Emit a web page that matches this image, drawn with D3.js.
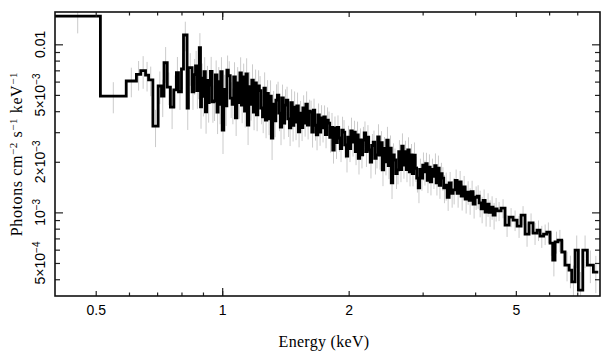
<!DOCTYPE html>
<html><head><meta charset="utf-8">
<script src="https://cdn.jsdelivr.net/npm/d3@7"></script>
<style>body{margin:0;background:#fff} svg{display:block}</style>
</head><body>
<svg id="c" width="609" height="357"></svg>
<script>
// Lower bin edges (keV); last value is the upper edge of the final bin
const binEdges = [0.40,0.513,0.591,0.625,0.640,0.657,0.668,0.684,
0.704,0.717,0.727,0.740,0.753,0.767,0.778,0.787,0.800,0.809,0.825,0.831,
0.848,0.856,0.864,0.870,0.876,0.882,0.888,0.893,0.899,0.905,0.912,0.919,0.926,0.931,0.937,0.946,0.955,0.963,0.972,0.978,0.985,0.992,1.000,1.009,1.018,1.026,1.034,1.045,1.056,1.065,
1.075,1.084,1.093,1.102,1.111,1.120,1.130,1.139,1.148,1.157,1.167,1.176,1.186,1.196,1.206,1.216,1.226,1.236,1.247,1.257,1.267,1.277,1.288,1.298,1.309,1.320,1.331,1.342,1.353,1.364,1.375,1.386,1.398,1.409,1.421,1.433,1.445,1.457,1.469,1.481,1.493,1.505,
1.518,1.530,1.543,1.556,1.569,1.582,1.595,1.608,1.621,1.634,1.648,1.661,1.675,1.689,1.703,1.717,1.731,1.745,1.760,1.774,1.789,1.803,1.818,1.833,1.848,1.863,1.879,1.894,1.910,1.926,1.942,1.958,1.974,1.990,2.007,2.023,2.040,2.057,2.074,2.091,2.108,2.125,2.143,2.160,2.178,2.196,2.214,2.232,2.251,2.269,2.288,2.307,2.326,2.345,2.365,2.384,2.404,2.424,2.444,2.464,
2.484,2.505,2.526,2.547,2.568,2.589,2.610,2.631,2.653,2.675,2.697,2.719,2.742,2.765,2.788,2.811,2.834,2.857,2.881,2.904,2.928,2.952,2.976,3.001,3.026,3.051,3.076,3.101,3.127,3.153,3.179,3.205,3.231,3.258,3.285,3.312,3.339,3.367,
3.395,3.432,3.469,3.507,3.546,3.585,3.624,3.664,3.705,3.746,3.787,3.829,3.871,3.913,3.956,4.000,4.044,4.089,4.134,4.179,4.225,4.271,4.318,4.366,4.414,4.463,
4.512,4.611,4.713,4.818,4.925,5.034,5.145,5.259,5.375,5.495,5.616,5.709,5.820,5.923,6.030,6.120,6.198,6.300,6.430,6.547,6.693,6.793,6.917,7.044,7.216,7.400,7.647,7.856];

// Flux per bin, in units of 1e-3 photons cm^-2 s^-1 keV^-1
const fluxE3 = [14.7,4.92,6.05,6.63,6.97,6.55,6.14,3.26,
5.65,4.92,7.77,5.57,4.23,5.35,6.78,5.22,7.13,11.36,4.18,7.26,
5.22,6.6,7.43,5.3,6.2,9.55,4.25,6.3,4.9,6.87,3.97,6.1,4.5,5.72,6.9,4.55,4.6,6.57,3.95,6.0,4.4,6.87,3.09,5.4,4.3,7.03,6.5,4.79,4.4,6.41,
3.65,5.9,4.5,6.75,4.35,6.4,4.0,6.66,3.31,5.6,4.4,6.13,3.95,5.9,3.8,5.65,5.3,4.18,3.7,5.49,3.54,5.1,3.6,4.92,2.77,4.4,3.5,4.66,4.99,3.9,3.22,4.8,3.4,4.35,4.66,3.6,3.18,4.5,3.3,4.23,3.45,4.3,
3.01,3.9,3.2,4.18,3.4,4.41,3.31,4.0,3.95,3.0,4.06,3.3,2.89,3.8,3.0,3.65,3.18,3.7,2.9,3.54,3.40,2.8,3.2,2.35,3.18,2.6,3.2,2.77,2.4,3.09,3.0,2.52,2.16,2.8,2.4,3.05,2.62,3.0,2.3,2.89,2.10,2.7,2.2,2.69,2.97,2.3,2.8,2.35,1.99,2.5,2.62,2.1,2.2,2.81,2.19,2.6,1.79,2.4,2.0,2.69,
1.9,2.41,1.50,2.2,2.05,1.7,1.79,2.3,1.8,2.48,1.91,2.3,1.8,2.35,1.74,2.2,1.7,2.19,1.83,1.6,1.40,1.8,1.6,1.91,1.74,1.95,1.55,1.86,1.52,1.8,1.64,1.9,1.5,1.83,1.45,1.7,1.60,1.4,
1.45,1.23,1.50,1.3,1.36,1.55,1.3,1.52,1.25,1.42,1.2,1.32,1.18,1.33,1.12,1.23,1.25,1.14,1.05,1.18,1.004,1.12,1.0,1.075,0.964,1.05,
1.02,1.06,0.84,0.938,0.90,0.829,0.964,0.743,0.865,0.753,0.785,0.723,0.743,0.764,0.656,0.52,0.668,0.684,0.581,0.486,0.453,0.386,0.597,0.345,0.597,0.486,0.441];

// Relative 1-sigma errors per bin
const relErr = [0.21,0.21,0.2,0.2,0.22,0.2,0.2,0.25,
0.22,0.25,0.24,0.22,0.26,0.22,0.24,0.22,0.24,0.2,0.26,0.22,
0.22,0.24,0.23,0.22,0.24,0.22,0.26,0.22,0.24,0.22,0.26,0.22,0.24,0.22,0.22,0.25,0.24,0.22,0.26,0.22,0.24,0.22,0.28,0.22,0.24,0.22,0.22,0.24,0.24,0.22,
0.22,0.24,0.2,0.24,0.22,0.2,0.2,0.24,0.24,0.22,0.2,0.24,0.22,0.2,0.2,0.24,0.22,0.2,0.2,0.24,0.22,0.2,0.2,0.24,0.26,0.2,0.2,0.24,0.2,0.22,0.22,0.2,0.2,0.24,0.2,0.22,0.22,0.2,0.2,0.24,0.22,0.2,
0.19,0.18,0.17,0.19,0.17,0.19,0.18,0.17,0.17,0.19,0.17,0.19,0.19,0.17,0.17,0.19,0.18,0.17,0.17,0.19,0.17,0.19,0.22,0.17,0.17,0.2,0.18,0.17,0.17,0.2,0.18,0.17,0.2,0.17,0.17,0.2,0.18,0.17,0.17,0.2,0.2,0.17,0.17,0.2,0.17,0.19,0.18,0.17,0.2,0.17,0.17,0.2,0.17,0.19,0.18,0.17,0.2,0.17,0.17,0.2,
0.17,0.19,0.2,0.17,0.17,0.19,0.18,0.17,0.16,0.19,0.17,0.16,0.16,0.19,0.18,0.16,0.16,0.19,0.17,0.18,0.19,0.16,0.16,0.19,0.17,0.16,0.16,0.19,0.17,0.16,0.16,0.18,0.16,0.19,0.17,0.16,0.16,0.19,
0.19,0.17,0.16,0.18,0.18,0.16,0.18,0.16,0.18,0.16,0.18,0.16,0.18,0.16,0.18,0.16,0.16,0.18,0.18,0.16,0.18,0.16,0.18,0.16,0.18,0.16,
0.13,0.13,0.15,0.13,0.14,0.15,0.13,0.16,0.14,0.15,0.14,0.15,0.14,0.14,0.16,0.2,0.15,0.15,0.18,0.2,0.22,0.25,0.22,0.28,0.22,0.22,0.25];

const xLabeledTicks = [0.5, 1, 2, 5];
const xMinorTicks = [0.6, 0.7, 0.8, 0.9, 3, 4, 6, 7];
const yTickValues = [5e-4, 1e-3, 2e-3, 5e-3, 0.01];
const yTickMantissa = ["5×10", "10", "2×10", "5×10", "0.01"];
const yTickExponent = ["−4", "−3", "−3", "−3", ""];
const yMinorTicks = [4e-4, 6e-4, 7e-4, 8e-4, 9e-4, 3e-3, 4e-3, 6e-3, 7e-3, 8e-3, 9e-3];
const yMajorTicks = [1e-3, 1e-2];
const xTitle = "Energy (keV)";

const L = 55, R = 600, T = 12, B = 296;
const svg = d3.select("#c");
const x = d3.scaleLog().domain([0.4, 7.93]).range([L, R]);
const y = d3.scaleLog().domain([3.18e-4, 0.01557]).range([B, T]);

const bins = fluxE3.map((f, i) => ({lo: binEdges[i], hi: binEdges[i+1], f: f*1e-3, e: (relErr[i] ?? 0.15)*f*1e-3}));

svg.append("clipPath").attr("id","clip").append("rect")
  .attr("x", L).attr("y", T).attr("width", R-L).attr("height", B-T);

const plot = svg.append("g").attr("clip-path","url(#clip)");

// error bars
plot.append("g").selectAll("line").data(bins).join("line")
  .attr("x1", d => x(Math.sqrt(d.lo*d.hi))).attr("x2", d => x(Math.sqrt(d.lo*d.hi)))
  .attr("y1", d => y(d.f + d.e)).attr("y2", d => y(Math.max(d.f - d.e, 1e-5)))
  .attr("stroke", "#cbcbcb").attr("stroke-width", 1);

// step histogram
const pts = bins.map(b => [b.lo, b.f]);
pts.push([bins[bins.length-1].hi, bins[bins.length-1].f]);
plot.append("path").datum(pts)
  .attr("d", d3.line().x(d => x(d[0])).y(d => y(d[1])).curve(d3.curveStepAfter))
  .attr("fill","none").attr("stroke","#000").attr("stroke-width",2.8).attr("stroke-linejoin","miter");

// axes
function styleAxis(g){
  g.select(".domain").remove();
  g.selectAll(".tick line").attr("stroke","#222").attr("stroke-width",1.2);
  g.attr("font-family","'Liberation Sans', Arial, sans-serif").attr("font-size",14);
  g.selectAll("text").attr("fill","#000");
}
const ax = svg.append("g");
ax.append("g").attr("transform",`translate(0,${B})`)
  .call(d3.axisBottom(x).tickValues(xLabeledTicks).tickSize(-5).tickPadding(9).tickFormat(d => d)).call(styleAxis);
ax.append("g").attr("transform",`translate(0,${B})`)
  .call(d3.axisBottom(x).tickValues([1]).tickSize(-8).tickFormat("")).call(styleAxis);
ax.append("g").attr("transform",`translate(0,${B})`)
  .call(d3.axisBottom(x).tickValues(xMinorTicks).tickSize(-3.5).tickFormat("")).call(styleAxis);
ax.append("g").attr("transform",`translate(0,${T})`)
  .call(d3.axisTop(x).tickValues(xLabeledTicks).tickSize(-5).tickFormat("")).call(styleAxis);
ax.append("g").attr("transform",`translate(0,${T})`)
  .call(d3.axisTop(x).tickValues([1]).tickSize(-8).tickFormat("")).call(styleAxis);
ax.append("g").attr("transform",`translate(0,${T})`)
  .call(d3.axisTop(x).tickValues(xMinorTicks).tickSize(-3.5).tickFormat("")).call(styleAxis);

ax.append("g").attr("transform",`translate(${L},0)`)
  .call(d3.axisLeft(y).tickValues(yMajorTicks).tickSize(-8).tickFormat("")).call(styleAxis);
ax.append("g").attr("transform",`translate(${L},0)`)
  .call(d3.axisLeft(y).tickValues(yMinorTicks.concat([2e-3,5e-3,5e-4])).tickSize(-5).tickFormat("")).call(styleAxis);
ax.append("g").attr("transform",`translate(${R},0)`)
  .call(d3.axisRight(y).tickValues(yMajorTicks).tickSize(-8).tickFormat("")).call(styleAxis);
ax.append("g").attr("transform",`translate(${R},0)`)
  .call(d3.axisRight(y).tickValues(yMinorTicks.concat([2e-3,5e-3,5e-4])).tickSize(-5).tickFormat("")).call(styleAxis);

// frame
svg.append("rect").attr("x",L).attr("y",T).attr("width",R-L).attr("height",B-T)
  .attr("fill","none").attr("stroke","#111").attr("stroke-width",1.6);

// y tick labels
const yl = svg.append("g").attr("font-family","'Liberation Sans', Arial, sans-serif").attr("font-size",14).attr("fill","#000");
yTickValues.forEach((v,i) => {
  const t = yl.append("text").attr("transform",`translate(45,${y(v)}) rotate(-90)`).attr("text-anchor","middle");
  t.append("tspan").text(yTickMantissa[i]);
  if (yTickExponent[i]) t.append("tspan").attr("dy",-5).attr("font-size",10).text(yTickExponent[i]);
});

// x title
svg.append("text").attr("x",324).attr("y",347).attr("text-anchor","middle")
  .attr("font-family","'Liberation Serif', 'Times New Roman', serif").attr("font-size",16)
  .attr("letter-spacing",0.3).text(xTitle);

// y title
const yt = svg.append("text").attr("transform",`translate(22,${(T+B)/2}) rotate(-90)`).attr("text-anchor","middle")
  .attr("font-family","'Liberation Serif', 'Times New Roman', serif").attr("font-size",16).attr("letter-spacing",0.6);
yt.append("tspan").text("Photons cm");
yt.append("tspan").attr("dy",-5).attr("font-size",11).text("−2");
yt.append("tspan").attr("dy",5).text(" s");
yt.append("tspan").attr("dy",-5).attr("font-size",11).text("−1");
yt.append("tspan").attr("dy",5).text(" keV");
yt.append("tspan").attr("dy",-5).attr("font-size",11).text("−1");
</script>
</body></html>
